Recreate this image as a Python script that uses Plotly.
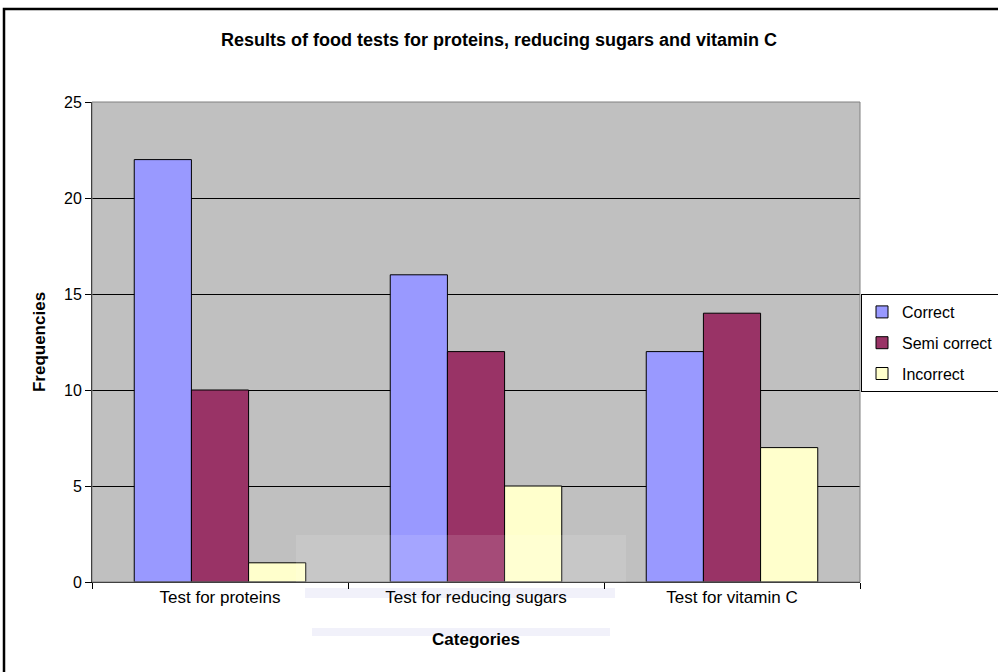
import plotly.graph_objects as go

categories = ["Test for proteins", "Test for reducing sugars", "Test for vitamin C"]
correct = [22, 16, 12]
semi_correct = [10, 12, 14]
incorrect = [1, 5, 7]
series_names = ["Correct", "Semi correct", "Incorrect"]
colors = ["#9999FF", "#993366", "#FFFFCC"]

fig = go.Figure()
for name, vals, col in zip(series_names, [correct, semi_correct, incorrect], colors):
    fig.add_trace(go.Bar(x=categories, y=vals, name=name, legendgroup=name,
                         marker=dict(color=col, line=dict(color="black", width=1))))

W, H = 998, 672
L, R, T, B = 92, 138, 102, 90
pw, ph = W - L - R, H - T - B

def px(x):
    return (x - L) / pw

def py(y):
    return (H - B - y) / ph

shapes = [
    # plot area border (top/right grey)
    dict(type="rect", xref="paper", yref="paper", x0=0, x1=1, y0=0, y1=1,
         line=dict(color="#808080", width=1), fillcolor="rgba(0,0,0,0)", layer="above"),
    # outer chart border
    dict(type="rect", xref="paper", yref="paper",
         x0=px(4), x1=px(1010), y0=py(700), y1=py(9),
         line=dict(color="black", width=2.5), fillcolor="rgba(0,0,0,0)"),
    # faint watermark
    dict(type="rect", xref="paper", yref="paper",
         x0=px(296), x1=px(626), y0=py(582), y1=py(535),
         line=dict(width=0), fillcolor="rgba(255,255,255,0.12)", layer="above"),
    dict(type="rect", xref="paper", yref="paper",
         x0=px(305), x1=px(615), y0=py(598), y1=py(588),
         line=dict(width=0), fillcolor="rgba(215,215,240,0.35)", layer="below"),
    dict(type="rect", xref="paper", yref="paper",
         x0=px(312), x1=px(610), y0=py(636), y1=py(628),
         line=dict(width=0), fillcolor="rgba(215,215,240,0.35)", layer="below"),
]

fig.update_layout(
    width=W, height=H,
    margin=dict(l=L, r=R, t=T, b=B, autoexpand=False),
    barmode="group", bargap=0.33, bargroupgap=0,
    paper_bgcolor="white", plot_bgcolor="#C0C0C0",
    font=dict(family="Liberation Sans, Arial", color="black", size=17),
    title=dict(text="<b>Results of food tests for proteins, reducing sugars and vitamin C</b>",
               x=0.5, xanchor="center", y=1 - 40 / H, yanchor="middle",
               font=dict(size=18)),
    showlegend=True,
    legend=dict(x=px(861), y=py(294), xanchor="left", yanchor="top",
                bgcolor="white", bordercolor="black", borderwidth=1,
                font=dict(size=16), traceorder="grouped", tracegroupgap=7, itemwidth=30),
    xaxis=dict(title=dict(text="<b>Categories</b>", font=dict(size=17), standoff=26),
               showline=True, linecolor="black", linewidth=1, mirror=False,
               ticks="outside", tickson="boundaries", ticklen=6, tickcolor="black",
               showgrid=False, tickfont=dict(size=17)),
    yaxis=dict(title=dict(text="<b>Frequencies</b>", font=dict(size=17), standoff=14),
               range=[0, 25], dtick=5, tick0=0,
               showline=True, linecolor="black", linewidth=1,
               ticks="outside", ticklen=6, tickcolor="black",
               showgrid=True, gridcolor="black", gridwidth=1,
               zeroline=False, tickfont=dict(size=16)),
    shapes=shapes,
)
fig.write_html("out.html", config={"displayModeBar": False},
               post_script="document.body.style.margin='0';")
